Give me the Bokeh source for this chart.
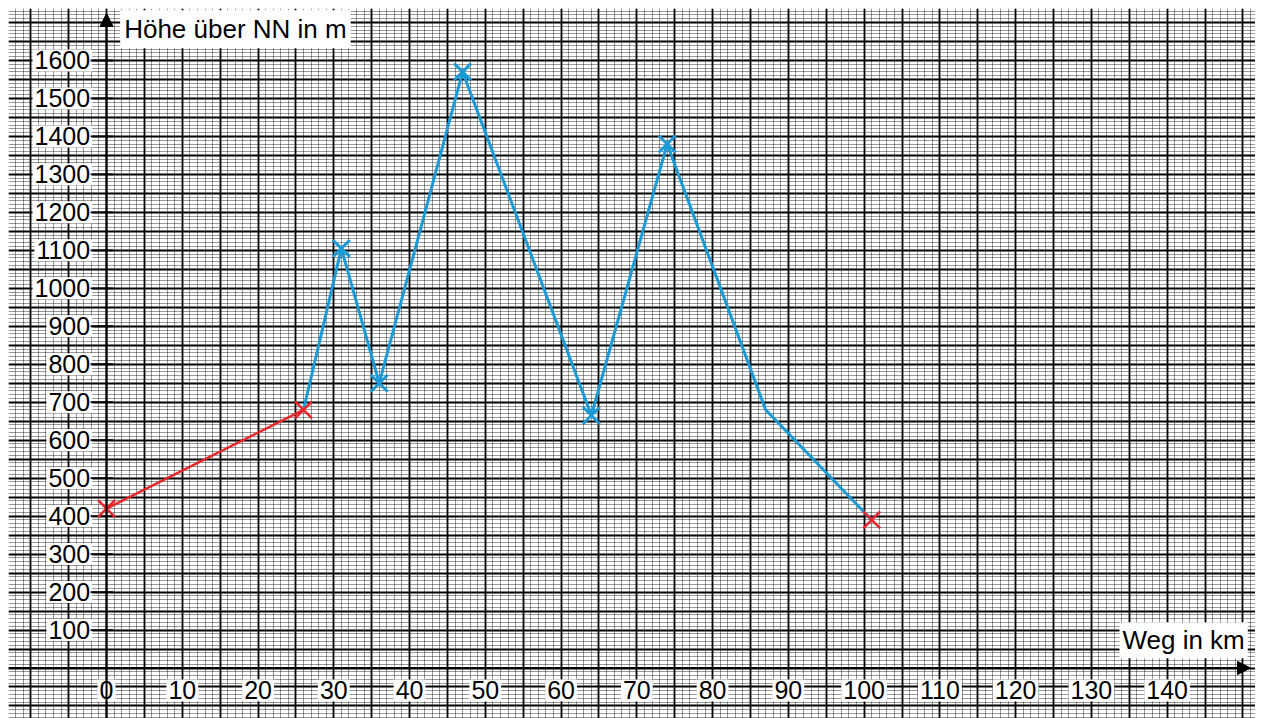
from bokeh.plotting import figure
from bokeh.models import (Grid, SingleIntervalTicker, Range1d, Arrow, NormalHead,
                          ColumnDataSource)
from bokeh.core.properties import value
from bokeh.embed import file_html
from bokeh.resources import INLINE

# ---- data ----
approach_x = [0, 26]
approach_y = [420, 680]
route_x = [26, 31, 36, 47, 64, 74, 87, 101]
route_y = [680, 1105, 750, 1570, 665, 1380, 680, 390]
blue_mark_x = [31, 36, 47, 64, 74]
blue_mark_y = [1105, 750, 1570, 665, 1380]
red_mark_x = [0, 26, 101]
red_mark_y = [420, 680, 390]
x_ticks = [0, 10, 20, 30, 40, 50, 60, 70, 80, 90, 100, 110, 120, 130, 140]
y_ticks = [100, 200, 300, 400, 500, 600, 700, 800, 900, 1000, 1100, 1200,
           1300, 1400, 1500, 1600]
x_title = "Weg in km"
y_title = "Höhe über NN in m"

BLUE = "#1b9ad6"
RED = "#e8262b"
FONT = value("Liberation Sans")
FS = "25px"
FS_T = "26px"

X0, X1 = -12.94, 151.66
Y0, Y1 = -133.0, 1736.9

p = figure(width=1255, height=718, output_backend="svg", toolbar_location=None,
           x_range=Range1d(X0, X1), y_range=Range1d(Y0, Y1),
           min_border_left=8, min_border_top=8, min_border_right=0,
           min_border_bottom=0, outline_line_color=None)
p.axis.visible = False
p.grid.visible = False

# graph-paper grid
for dim in (0, 1):
    iv_minor = 1 if dim == 0 else 10
    p.add_layout(Grid(dimension=dim,
                      ticker=SingleIntervalTicker(interval=iv_minor, num_minor_ticks=0),
                      grid_line_color="black", grid_line_alpha=0.4,
                      grid_line_width=1))
for dim in (0, 1):
    iv_major = 5 if dim == 0 else 50
    p.add_layout(Grid(dimension=dim,
                      ticker=SingleIntervalTicker(interval=iv_major, num_minor_ticks=0),
                      grid_line_color="black", grid_line_alpha=1.0,
                      grid_line_width=1.8))

# axes arrows
p.add_layout(Arrow(end=NormalHead(size=13, fill_color="black", line_color="black"),
                   x_start=0, y_start=Y0, x_end=0, y_end=1724,
                   line_color="black", line_width=2))
p.add_layout(Arrow(end=NormalHead(size=13, fill_color="black", line_color="black"),
                   x_start=X0, y_start=0, x_end=151.0, y_end=0,
                   line_color="black", line_width=2))

# y tick labels with white background
ysrc = ColumnDataSource(dict(x=[-1.9] * len(y_ticks), y=y_ticks,
                             t=[str(v) for v in y_ticks]))
p.text(x="x", y="y", text="t", source=ysrc, text_align="right",
       text_baseline="middle", text_font=FONT, text_font_size=FS,
       text_color="black", background_fill_color="white", padding=2)
# y tick marks
p.segment(x0=[-2.1] * len(y_ticks), y0=y_ticks, x1=[0.9] * len(y_ticks),
          y1=y_ticks, line_color="black", line_width=1.8)

# x tick labels
xsrc = ColumnDataSource(dict(x=x_ticks, y=[-59] * len(x_ticks),
                             t=[str(v) for v in x_ticks]))
p.text(x="x", y="y", text="t", source=xsrc, text_align="center",
       text_baseline="middle", text_font=FONT, text_font_size=FS,
       text_color="black", background_fill_color="white", padding=2)

# axis titles
p.text(x=[1.8], y=[1682], text=[y_title], text_align="left",
       text_baseline="alphabetic", text_font=FONT, text_font_size=FS_T,
       text_color="black", background_fill_color="white", padding=4)
p.text(x=[133.7], y=[73], text=[x_title], text_align="left",
       text_baseline="alphabetic", text_font=FONT, text_font_size=FS_T,
       text_color="black", background_fill_color="white", padding=3)

# profile lines
p.line(approach_x, approach_y, line_color=RED, line_width=2.5)
p.line(route_x, route_y, line_color=BLUE, line_width=3)
p.scatter(blue_mark_x, blue_mark_y, marker="x", size=24, line_color=BLUE,
          line_width=3)
p.scatter(red_mark_x, red_mark_y, marker="x", size=24, line_color=RED,
          line_width=2.5)

open("out.html", "w").write(file_html(p, INLINE))
